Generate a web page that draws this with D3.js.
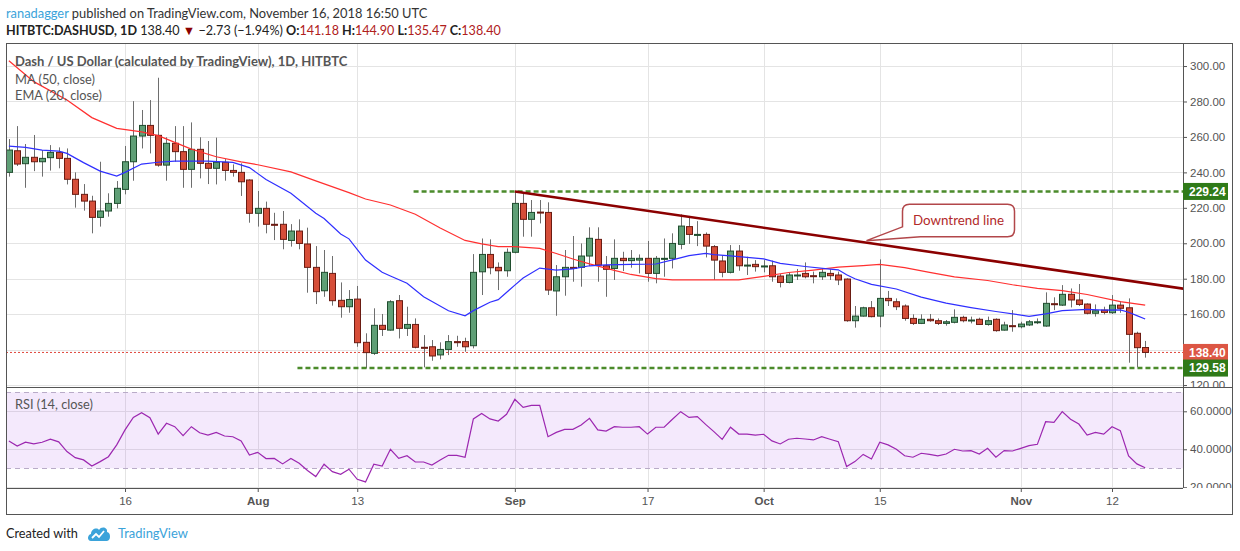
<!DOCTYPE html>
<html>
<head>
<meta charset="utf-8">
<script src="https://cdn.jsdelivr.net/npm/d3@7"></script>
<style>
  html, body { margin: 0; padding: 0; background: #fff; }
  svg { display: block; }
</style>
</head>
<body>
<div id="chart"></div>
<script>
// ---- data ----
const startDay = "2018-07-02";

const opens = [240.0,252.2,244.9,248.5,246.0,248.3,251.3,247.9,236.1,227.6,
  223.8,214.6,218.2,222.5,230.4,246.0,260.5,266.5,260.9,244.1,
  256.4,251.7,241.7,253.0,245.1,242.3,245.7,241.1,240.0,235.7,
  216.9,219.7,210.7,210.7,201.6,206.9,199.6,186.4,173.2,183.0,
  167.8,164.2,168.5,144.1,137.9,153.7,151.0,167.6,152.0,154.2,
  141.3,141.6,137.0,140.1,144.5,144.5,142.2,183.9,193.7,186.4,
  184.5,194.9,222.5,213.5,217.6,217.4,173.1,181.1,186.4,186.4,
  192.8,202.2,187.3,185.8,191.5,190.2,190.5,191.5,183.0,191.3,
  191.5,199.4,209.4,204.6,205.0,198.1,190.0,183.6,195.6,187.5,
  188.1,187.0,187.3,181.5,177.9,181.9,183.0,181.7,181.1,183.0,
  182.1,179.8,156.3,158.9,163.6,158.9,168.9,167.0,164.6,157.6,
  154.8,157.1,156.3,154.8,155.4,158.2,156.5,157.1,154.2,157.1,
  151.0,153.5,152.9,153.9,155.5,153.3,165.9,165.1,171.2,168.0,
  165.7,160.5,162.3,160.8,165.1,163.6,149.2,141.18];

const highs = [258.8,266.1,256.0,261.1,252.6,255.4,254.1,253.5,240.0,233.4,
  226.8,246.0,228.2,235.1,254.9,280.2,275.2,280.8,293.4,259.8,
  266.1,266.1,268.2,259.8,257.7,259.6,247.5,244.5,245.1,236.1,
  229.5,223.5,217.2,218.2,210.8,213.5,208.8,198.4,196.2,192.8,
  177.9,173.6,175.9,149.2,163.3,160.1,167.9,170.8,164.2,157.6,
  148.2,145.4,144.1,148.2,147.8,146.7,193.9,202.7,202.2,189.2,
  197.1,229.1,228.5,224.4,224.4,223.1,187.7,196.2,204.1,199.9,
  209.0,209.0,192.8,202.2,195.2,196.2,193.7,201.3,192.8,202.7,
  205.6,216.3,215.4,212.5,206.1,199.0,193.3,199.0,199.0,192.4,
  190.5,190.5,190.2,182.6,183.6,185.5,189.2,184.0,185.8,185.3,
  184.0,180.2,164.6,164.2,167.4,190.9,173.1,168.9,165.5,159.9,
  159.9,160.1,157.6,156.7,162.7,159.1,158.6,158.0,158.6,157.6,
  155.7,162.3,155.7,156.7,157.6,172.3,169.5,176.4,174.5,177.0,
  166.1,165.5,164.2,170.8,167.4,168.9,150.1,144.90];

const lows = [237.6,243.6,231.3,240.7,237.6,241.0,242.3,233.2,220.1,218.4,
  205.6,209.4,215.0,219.7,227.6,235.3,253.5,250.7,243.2,235.3,
  246.0,231.3,231.3,236.6,233.4,233.2,235.3,237.6,226.7,211.6,
  209.4,205.6,201.8,196.6,198.1,196.6,172.1,165.7,169.8,164.8,
  158.0,160.8,141.6,129.4,137.0,147.7,150.7,146.3,147.7,140.7,
  130.0,133.7,134.5,136.9,141.6,138.8,140.7,170.8,182.5,173.6,
  181.1,194.3,203.7,203.7,211.2,170.8,159.1,170.4,178.3,175.5,
  187.2,178.3,169.8,179.3,184.3,186.2,183.0,178.3,177.4,181.1,
  185.8,196.6,199.6,198.4,192.0,179.3,180.8,183.0,184.5,182.1,
  184.0,183.6,178.3,175.1,177.4,179.3,180.2,177.4,179.3,179.3,
  176.4,155.7,152.4,158.6,158.2,152.6,164.6,162.3,156.3,153.9,
  154.4,155.7,153.9,153.5,154.8,155.4,154.8,153.9,153.5,150.1,
  150.7,150.1,152.0,153.3,154.4,152.9,162.3,164.6,163.8,164.6,
  159.9,158.6,159.9,160.1,160.8,132.6,130.0,135.47];

const closes = [252.6,244.7,248.5,246.0,247.9,251.3,247.9,236.1,227.6,223.8,
  214.6,218.2,222.5,231.0,246.0,260.5,266.5,260.9,244.1,256.4,
  251.7,241.7,253.0,245.1,242.3,245.7,241.1,240.0,234.7,216.9,
  219.7,210.7,210.5,202.2,206.9,199.9,186.4,172.7,183.6,167.6,
  164.2,168.3,143.9,138.3,153.7,151.4,167.0,152.0,154.2,141.3,
  141.0,136.4,140.1,144.5,143.9,141.6,183.6,193.7,186.2,184.5,
  194.9,222.5,213.5,217.4,217.2,173.6,181.1,186.4,185.8,192.8,
  202.8,187.7,185.3,191.5,190.2,191.5,191.5,183.0,191.5,191.5,
  199.9,209.7,205.0,205.0,198.4,190.5,183.6,195.6,187.3,187.7,
  186.8,187.2,181.1,177.9,182.1,182.1,181.1,181.5,183.6,181.7,
  179.3,156.3,158.9,163.6,158.6,168.9,167.6,164.2,157.6,154.8,
  157.1,156.3,154.8,155.7,158.2,156.3,156.7,154.2,156.3,150.7,
  153.9,153.0,154.4,155.7,155.7,166.1,165.5,171.2,168.0,165.5,
  160.5,161.9,161.0,165.1,163.3,148.6,141.1,138.40];

const rsi14 = [44.4,41.7,43.7,42.8,43.7,45.3,43.9,38.8,35.6,34.4,
  31.2,33.5,36.1,42.3,50.2,56.8,59.3,56.6,48.0,53.7,
  51.9,47.2,51.9,48.7,47.5,48.9,47.0,46.6,44.4,37.0,
  38.4,35.1,35.2,32.3,35.2,32.6,28.8,25.6,32.1,28.2,
  26.8,29.5,24.2,22.8,32.1,31.2,40.0,35.2,36.6,33.3,
  33.3,31.7,34.4,36.8,36.8,35.8,56.0,58.9,56.0,54.9,
  58.4,66.3,62.1,63.1,63.1,46.6,48.9,50.5,50.5,52.8,
  56.3,50.2,49.6,51.9,51.6,51.6,51.9,48.0,51.6,51.6,
  55.8,59.8,56.8,57.2,53.1,49.3,45.2,51.6,48.0,48.0,
  47.5,47.9,44.4,42.8,45.3,45.8,45.4,44.9,46.6,45.3,
  44.0,30.9,33.5,37.3,34.9,43.7,42.3,40.0,36.6,35.8,
  37.9,37.3,36.5,37.5,40.0,39.1,39.3,37.5,40.5,35.8,
  39.3,39.1,40.5,41.9,42.6,54.5,54.2,59.8,55.8,53.3,
  47.5,48.9,48.0,51.9,49.8,36.5,32.3,30.3];

// moving averages, sampled along the drawn lines (day index from startDay)
const ma50Days = [0,3,7,10,13,16,18,20,22,25,28,30,34,37,41,43,46,49,52,55,57,59,61,64,66,68,70,73,75,78,80,88,91,94,97,100,103,105,108,111,114,118,121,124,127,130,134,137];
const ma50Vals = [303.0,291.2,280.8,270.9,264.8,262.9,260.7,256.9,253.1,248.8,245.9,244.3,240.3,235.2,228.6,225.0,221.6,216.4,208.6,201.6,199.7,198.1,198.1,197.1,194.2,191.1,188.4,184.7,182.4,180.1,179.3,179.3,181.3,183.5,184.9,186.5,187.4,188.1,186.3,183.6,181.0,179.0,176.6,174.6,173.3,171.1,167.1,165.1];

const ema20Days = [0,2,4,6,7,9,11,13,14,16,18,20,24,27,29,31,34,37,38,40,41,43,45,46,48,50,53,55,56,58,59,61,62,64,66,68,70,72,75,78,80,82,84,85,87,91,93,96,99,100,101,102,104,107,110,113,116,119,123,125,127,130,132,134,135,136,137];
const ema20Vals = [254.8,254.1,252.6,252.0,250.7,245.5,240.7,237.9,240.0,244.7,245.7,246.4,246.4,245.6,242.7,236.0,228.2,217.0,214.0,205.2,202.5,190.5,183.6,181.5,177.4,169.8,161.9,159.1,162.0,166.7,168.2,176.4,180.4,186.0,184.9,185.6,187.3,187.8,188.1,188.3,190.6,193.0,194.3,193.6,192.9,191.2,188.7,186.9,185.4,185.0,182.2,180.0,176.8,174.2,169.6,166.2,163.7,161.5,158.8,160.2,162.0,162.7,162.3,162.4,161.1,159.2,157.3];

const priceTicks = [120,140,160,180,200,220,240,260,280,300];
const rsiTicks = [20,40,60];
const rsiBand = [30,70];
const timeTicks = ["2018-07-16","2018-08-01","2018-08-13","2018-09-01","2018-09-17","2018-10-01","2018-10-15","2018-11-01","2018-11-12"];
const timeTickLabels = ["16","Aug","13","Sep","17","Oct","15","Nov","12"];

// drawings
const levelValues = [229.24, 129.58];
const levelStarts = ["2018-08-19T19:00Z", "2018-08-05T19:00Z"];
const trendDates = ["2018-09-01T00:00Z", "2018-11-21T00:00Z"];
const trendVals = [229.2, 174.1];
const lastClose = 138.40;

// ---- layout ----
const W = 1240, H = 551;
const L = 6, R = 1183, RB = 1232, T = 43, MID = 387, RSIB = 488, B = 514;
const dayMs = 864e5;

const svg = d3.select("#chart").append("svg")
  .attr("width", W).attr("height", H)
  .style("font-family", "Lato, 'Open Sans', sans-serif");

const parseDay = d3.utcParse("%Y-%m-%d");
const day0 = parseDay(startDay);
const dates = closes.map((_, i) => d3.utcDay.offset(day0, i));
const dayAt = i => new Date(+day0 + i * dayMs);

const anchor = parseDay("2018-07-16");
const x = d3.scaleUtc()
  .domain([new Date(+anchor - 14.35 * dayMs), new Date(+anchor + 127.56 * dayMs)])
  .range([L, R]);
const y = d3.scaleLinear().domain([118.9, 313]).range([MID, T]);
const yr = d3.scaleLinear().domain([19.6, 72.8]).range([RSIB, MID]);

function fitWidth(t, w) {
  const len = t.node().getComputedTextLength();
  if (len > 0) t.attr("font-size", +t.attr("font-size") * w / len);
}

// clip paths
const defs = svg.append("defs");
function clip(id, x0, y0, w, h) {
  defs.append("clipPath").attr("id", id)
    .append("rect").attr("x", x0).attr("y", y0).attr("width", w).attr("height", h);
}
clip("pricePane", L, T, R - L, MID - T);
clip("rsiPane", L, MID, R - L, RSIB - MID);
clip("priceAxis", R, T, RB - R, MID - T);
clip("rsiAxis", R, MID, RB - R, RSIB - MID);

// ---- grid ----
const grid = svg.append("g");
grid.selectAll(".vg").data(timeTicks).join("line")
  .attr("x1", d => Math.round(x(parseDay(d))) + 0.5)
  .attr("x2", d => Math.round(x(parseDay(d))) + 0.5)
  .attr("y1", T).attr("y2", RSIB)
  .attr("stroke", "#e4e4e4");
grid.append("g").attr("clip-path", "url(#pricePane)")
  .selectAll("line").data(priceTicks).join("line")
  .attr("x1", L).attr("x2", R)
  .attr("y1", d => Math.round(y(d)) + 0.5).attr("y2", d => Math.round(y(d)) + 0.5)
  .attr("stroke", "#e4e4e4");

// ---- RSI pane ----
const rsiG = svg.append("g").attr("clip-path", "url(#rsiPane)");
rsiG.selectAll(".rg").data(rsiTicks).join("line")
  .attr("x1", L).attr("x2", R)
  .attr("y1", d => Math.round(yr(d)) + 0.5).attr("y2", d => Math.round(yr(d)) + 0.5)
  .attr("stroke", "#e4e4e4");
rsiG.append("rect")
  .attr("x", L).attr("width", R - L)
  .attr("y", yr(rsiBand[1])).attr("height", yr(rsiBand[0]) - yr(rsiBand[1]))
  .attr("fill", "rgba(153, 51, 230, 0.11)");
rsiG.selectAll(".rb").data(rsiBand).join("line")
  .attr("x1", L).attr("x2", R)
  .attr("y1", d => Math.round(yr(d)) + 0.5).attr("y2", d => Math.round(yr(d)) + 0.5)
  .attr("stroke", "#b9abc8").attr("stroke-dasharray", "5,4");
rsiG.append("path")
  .datum(rsi14)
  .attr("fill", "none")
  .attr("stroke", "#9c27b0")
  .attr("stroke-width", 1.2)
  .attr("d", d3.line().x((d, i) => x(dates[i])).y(d => yr(d)));

// ---- price pane ----
const pane = svg.append("g").attr("clip-path", "url(#pricePane)");

// last price dotted line
pane.append("line")
  .attr("x1", L).attr("x2", R)
  .attr("y1", y(lastClose)).attr("y2", y(lastClose))
  .attr("stroke", "#e0443a").attr("stroke-dasharray", "2,2");

// candles
const candles = pane.append("g").selectAll("g").data(dates).join("g");
candles.append("line")
  .attr("x1", d => Math.round(x(d)) + 0.5)
  .attr("x2", d => Math.round(x(d)) + 0.5)
  .attr("y1", (d, i) => y(highs[i]))
  .attr("y2", (d, i) => y(lows[i]))
  .attr("stroke", "#6e6e6e");
candles.append("rect")
  .attr("x", d => Math.round(x(d)) - 2.5)
  .attr("width", 6)
  .attr("y", (d, i) => y(Math.max(opens[i], closes[i])))
  .attr("height", (d, i) => Math.max(1, Math.abs(y(opens[i]) - y(closes[i]))))
  .attr("fill", (d, i) => closes[i] >= opens[i] ? "#5f9f76" : "#d64e39")
  .attr("stroke", (d, i) => closes[i] >= opens[i] ? "#1f4d2e" : "#6a1b12")
  .attr("stroke-width", 1);

// moving averages
pane.append("path")
  .attr("fill", "none").attr("stroke", "#ff3030").attr("stroke-width", 1.2)
  .attr("d", d3.line()(ma50Days.map((d, i) => [x(dayAt(d)), y(ma50Vals[i])])));
pane.append("path")
  .attr("fill", "none").attr("stroke", "#2f2fff").attr("stroke-width", 1.2)
  .attr("d", d3.line()(ema20Days.map((d, i) => [x(dayAt(d)), y(ema20Vals[i])])));

// horizontal support / resistance
pane.selectAll(".lvl").data(levelValues).join("line")
  .attr("x1", (d, i) => x(new Date(levelStarts[i]))).attr("x2", R)
  .attr("y1", d => y(d)).attr("y2", d => y(d))
  .attr("stroke", "#4b8b2b").attr("stroke-width", 2.6)
  .attr("stroke-dasharray", "5,3");

// downtrend line
pane.append("line")
  .attr("x1", x(new Date(trendDates[0]))).attr("y1", y(trendVals[0]))
  .attr("x2", x(new Date(trendDates[1]))).attr("y2", y(trendVals[1]))
  .attr("stroke", "#8b0000").attr("stroke-width", 2.6);

// callout
{
  const t0 = +new Date(trendDates[0]), t1 = +new Date(trendDates[1]);
  const tipDate = +parseDay("2018-10-13") + 0.4 * dayMs;
  const tipVal = trendVals[0] + (trendVals[1] - trendVals[0]) * (tipDate - t0) / (t1 - t0);
  const tx = x(new Date(tipDate)), ty = y(tipVal) - 2;
  const bx0 = tx + 36, bx1 = tx + 148, by0 = ty - 36.5, by1 = ty - 3.8, r = 7;
  const p = `M${bx0 + r},${by0} H${bx1 - r} Q${bx1},${by0} ${bx1},${by0 + r} V${by1 - r} Q${bx1},${by1} ${bx1 - r},${by1} H${bx0 + 18} L${tx},${ty} L${bx0},${by1 - 10} V${by0 + r} Q${bx0},${by0} ${bx0 + r},${by0} Z`;
  svg.append("path").attr("d", p)
    .attr("fill", "#fff").attr("stroke", "#b2474a").attr("stroke-width", 1.5);
  const ct = svg.append("text")
    .attr("x", (bx0 + bx1) / 2).attr("y", (by0 + by1) / 2)
    .attr("text-anchor", "middle").attr("dominant-baseline", "central")
    .attr("font-size", 14).attr("fill", "#b22a2a")
    .text("Downtrend line");
  fitWidth(ct, 91);
}

// ---- frame ----
const frame = svg.append("g").attr("stroke", "#555").attr("fill", "none").attr("shape-rendering", "crispEdges");
frame.append("rect").attr("x", L).attr("y", T).attr("width", RB - L).attr("height", B - T);
frame.append("line").attr("x1", R).attr("x2", R).attr("y1", T).attr("y2", RSIB);
frame.append("line").attr("x1", L).attr("x2", RB).attr("y1", MID).attr("y2", MID);
frame.append("line").attr("x1", L).attr("x2", R).attr("y1", RSIB).attr("y2", RSIB);

// ---- axes ----
const tags = [
  { v: levelValues[0], c: "#2f7a18" },
  { v: lastClose, c: "#dc5644" },
  { v: levelValues[1], c: "#2f7a18" }
];

function styleAxis(g, size) {
  g.select(".domain").remove();
  g.selectAll(".tick line").attr("stroke", "#555");
  g.selectAll(".tick text")
    .attr("fill", "#555")
    .style("font-family", "'Liberation Sans', Arial, sans-serif")
    .style("font-size", size + "px");
}
svg.append("g").attr("clip-path", "url(#priceAxis)")
  .append("g").attr("transform", `translate(${R},0)`)
  .call(d3.axisRight(y).tickValues(priceTicks).tickFormat(d3.format(".2f")).tickSize(4).tickPadding(3))
  .call(g => styleAxis(g, 11.5))
  // labels hidden under a price tag, as the reference does
  .call(g => g.selectAll(".tick text")
    .style("display", d => tags.some(t => Math.abs(y(t.v) - y(d)) < 13) ? "none" : null));
svg.append("g").attr("clip-path", "url(#rsiAxis)")
  .append("g").attr("transform", `translate(${R},0)`)
  .call(d3.axisRight(yr).tickValues(rsiTicks).tickFormat(d3.format(".4f")).tickSize(4).tickPadding(3))
  .call(g => styleAxis(g, 11.5));
svg.append("g").attr("transform", `translate(0,${RSIB})`)
  .call(d3.axisBottom(x).tickValues(timeTicks.map(parseDay))
    .tickFormat((d, i) => timeTickLabels[i]).tickSize(4).tickPadding(5))
  .call(g => styleAxis(g, 11.5))
  .call(g => g.selectAll(".tick text")
    .style("font-weight", (d, i) => isNaN(+timeTickLabels[i]) ? "bold" : "normal"));

// price labels on the axis
const tagG = svg.append("g").selectAll("g").data(tags).join("g")
  .attr("transform", d => `translate(${R},${y(d.v)})`);
tagG.append("rect").attr("x", 0).attr("y", -8.5).attr("width", 45).attr("height", 17)
  .attr("fill", d => d.c);
tagG.append("text").attr("x", 6).attr("dy", "0.35em")
  .attr("fill", "#fff").attr("font-weight", "bold")
  .style("font-family", "'Liberation Sans', Arial, sans-serif")
  .style("font-size", "12px")
  .text(d => d.v.toFixed(2));

// ---- texts ----
const h1 = svg.append("text").attr("x", 6).attr("y", 12.5)
  .attr("dominant-baseline", "central").attr("font-size", 14);
h1.append("tspan").attr("fill", "#3ba3da").text("ranadagger");
h1.append("tspan").attr("fill", "#333").text(" published on TradingView.com, November 16, 2018 16:50 UTC");
fitWidth(h1, 422);

const h2 = svg.append("text").attr("x", 6).attr("y", 30)
  .attr("dominant-baseline", "central").attr("font-size", 14).attr("fill", "#222");
h2.append("tspan").attr("font-weight", "bold").text("HITBTC:DASHUSD, 1D");
h2.append("tspan").text("  138.40 ");
h2.append("tspan").attr("fill", "#8b0000").text("▼");
h2.append("tspan").text(" −2.73 (−1.94%) ");
[["O:", "141.18"], ["H:", "144.90"], ["L:", "135.47"], ["C:", "138.40"]].forEach((p, i) => {
  h2.append("tspan").attr("font-weight", "bold").text((i ? " " : "") + p[0]);
  h2.append("tspan").attr("fill", "#b0201c").text(p[1]);
});
fitWidth(h2, 495);

const title = svg.append("text").attr("x", 15).attr("y", 61)
  .attr("dominant-baseline", "central").attr("font-size", 14)
  .attr("fill", "#555").attr("font-weight", "bold")
  .text("Dash / US Dollar (calculated by TradingView), 1D, HITBTC");
fitWidth(title, 333);

[["MA (50, close)", 78.5, 80], ["EMA (20, close)", 95, 87], ["RSI (14, close)", 404, 78]].forEach(([s, yy, w]) => {
  const t = svg.append("text").attr("x", 15).attr("y", yy)
    .attr("dominant-baseline", "central").attr("font-size", 14)
    .attr("fill", "#555").text(s);
  fitWidth(t, w);
});

// footer
const f1 = svg.append("text").attr("x", 6).attr("y", 533)
  .attr("dominant-baseline", "central").attr("font-size", 14)
  .attr("fill", "#222").text("Created with");
fitWidth(f1, 72);
svg.append("path")
  .attr("d", "M91,541 C87,541 87,535 91,534 C91,529 97,527 99,530 C101,526 108,527 107,532 C111,532 111,541 107,541 Z")
  .attr("fill", "#3ba3da");
svg.append("path")
  .attr("d", "M92,538 L96,534 L99,537 L104,531")
  .attr("fill", "none").attr("stroke", "#fff").attr("stroke-width", 1.8);
const f2 = svg.append("text").attr("x", 118).attr("y", 533)
  .attr("dominant-baseline", "central").attr("font-size", 14)
  .attr("fill", "#3ba3da").text("TradingView");
fitWidth(f2, 70);
</script>
</body>
</html>
